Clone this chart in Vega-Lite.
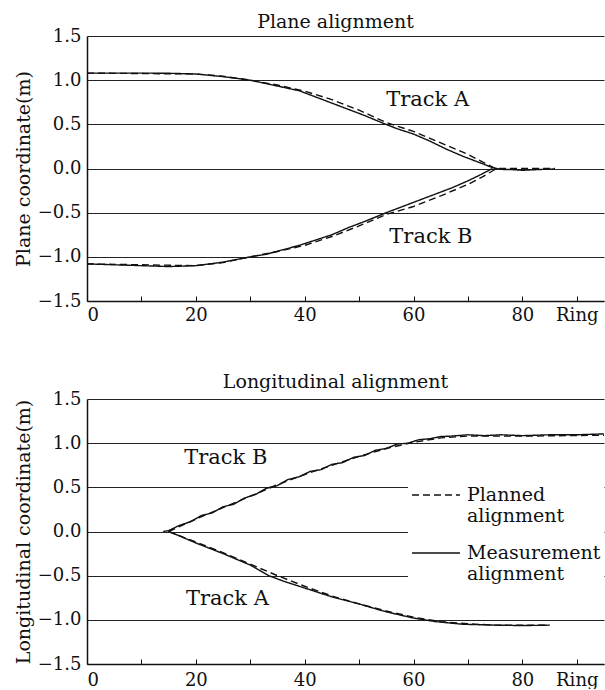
{
  "$schema": "https://vega.github.io/schema/vega-lite/v6.json",
  "padding": {"left": 14, "top": 13, "right": 0, "bottom": 0},
  "background": "white",
  "spacing": 49,
  "config": {
    "view": {"stroke": null},
    "font": "DejaVu Serif",
    "axis": {
      "labelFont": "DejaVu Serif",
      "labelFontSize": 18,
      "labelColor": "#111",
      "titleFont": "DejaVu Serif",
      "titleFontSize": 19,
      "titleFontWeight": "normal",
      "titleColor": "#111",
      "domainColor": "#111",
      "domainWidth": 1.5,
      "tickColor": "#111",
      "gridColor": "#222",
      "gridWidth": 1.2
    }
  },
  "datasets": {
    "lines": [
      {"panel": "plane", "track": "A", "type": "Measurement", "ring": 0, "value": 1.08},
      {"panel": "plane", "track": "A", "type": "Measurement", "ring": 5, "value": 1.08},
      {"panel": "plane", "track": "A", "type": "Measurement", "ring": 10, "value": 1.08},
      {"panel": "plane", "track": "A", "type": "Measurement", "ring": 15, "value": 1.078},
      {"panel": "plane", "track": "A", "type": "Measurement", "ring": 20, "value": 1.07},
      {"panel": "plane", "track": "A", "type": "Measurement", "ring": 25, "value": 1.04},
      {"panel": "plane", "track": "A", "type": "Measurement", "ring": 30, "value": 1.0},
      {"panel": "plane", "track": "A", "type": "Measurement", "ring": 33, "value": 0.96},
      {"panel": "plane", "track": "A", "type": "Measurement", "ring": 36, "value": 0.92},
      {"panel": "plane", "track": "A", "type": "Measurement", "ring": 39, "value": 0.88},
      {"panel": "plane", "track": "A", "type": "Measurement", "ring": 42, "value": 0.81},
      {"panel": "plane", "track": "A", "type": "Measurement", "ring": 45, "value": 0.74},
      {"panel": "plane", "track": "A", "type": "Measurement", "ring": 48, "value": 0.67},
      {"panel": "plane", "track": "A", "type": "Measurement", "ring": 51, "value": 0.6},
      {"panel": "plane", "track": "A", "type": "Measurement", "ring": 54.5, "value": 0.51},
      {"panel": "plane", "track": "A", "type": "Measurement", "ring": 57, "value": 0.45},
      {"panel": "plane", "track": "A", "type": "Measurement", "ring": 60, "value": 0.39},
      {"panel": "plane", "track": "A", "type": "Measurement", "ring": 63, "value": 0.31},
      {"panel": "plane", "track": "A", "type": "Measurement", "ring": 66, "value": 0.22},
      {"panel": "plane", "track": "A", "type": "Measurement", "ring": 69, "value": 0.14},
      {"panel": "plane", "track": "A", "type": "Measurement", "ring": 72, "value": 0.07},
      {"panel": "plane", "track": "A", "type": "Measurement", "ring": 74.5, "value": 0.01},
      {"panel": "plane", "track": "A", "type": "Measurement", "ring": 76, "value": -0.01},
      {"panel": "plane", "track": "A", "type": "Measurement", "ring": 78, "value": -0.012},
      {"panel": "plane", "track": "A", "type": "Measurement", "ring": 80, "value": -0.02},
      {"panel": "plane", "track": "A", "type": "Measurement", "ring": 83, "value": -0.012},
      {"panel": "plane", "track": "A", "type": "Measurement", "ring": 86, "value": -0.005},

      {"panel": "plane", "track": "A", "type": "Planned", "ring": 0, "value": 1.08},
      {"panel": "plane", "track": "A", "type": "Planned", "ring": 20, "value": 1.07},
      {"panel": "plane", "track": "A", "type": "Planned", "ring": 25, "value": 1.045},
      {"panel": "plane", "track": "A", "type": "Planned", "ring": 30, "value": 1.0},
      {"panel": "plane", "track": "A", "type": "Planned", "ring": 35, "value": 0.945},
      {"panel": "plane", "track": "A", "type": "Planned", "ring": 40, "value": 0.875},
      {"panel": "plane", "track": "A", "type": "Planned", "ring": 45, "value": 0.78},
      {"panel": "plane", "track": "A", "type": "Planned", "ring": 50, "value": 0.66},
      {"panel": "plane", "track": "A", "type": "Planned", "ring": 55, "value": 0.52},
      {"panel": "plane", "track": "A", "type": "Planned", "ring": 60, "value": 0.42},
      {"panel": "plane", "track": "A", "type": "Planned", "ring": 65, "value": 0.29},
      {"panel": "plane", "track": "A", "type": "Planned", "ring": 70, "value": 0.16},
      {"panel": "plane", "track": "A", "type": "Planned", "ring": 75, "value": 0.0},
      {"panel": "plane", "track": "A", "type": "Planned", "ring": 80, "value": 0.0},
      {"panel": "plane", "track": "A", "type": "Planned", "ring": 86, "value": 0.0},

      {"panel": "plane", "track": "B", "type": "Measurement", "ring": 0, "value": -1.08},
      {"panel": "plane", "track": "B", "type": "Measurement", "ring": 5, "value": -1.09},
      {"panel": "plane", "track": "B", "type": "Measurement", "ring": 10, "value": -1.1},
      {"panel": "plane", "track": "B", "type": "Measurement", "ring": 15, "value": -1.11},
      {"panel": "plane", "track": "B", "type": "Measurement", "ring": 20, "value": -1.1},
      {"panel": "plane", "track": "B", "type": "Measurement", "ring": 25, "value": -1.06},
      {"panel": "plane", "track": "B", "type": "Measurement", "ring": 30, "value": -1.0},
      {"panel": "plane", "track": "B", "type": "Measurement", "ring": 33, "value": -0.97},
      {"panel": "plane", "track": "B", "type": "Measurement", "ring": 36, "value": -0.92},
      {"panel": "plane", "track": "B", "type": "Measurement", "ring": 39, "value": -0.87},
      {"panel": "plane", "track": "B", "type": "Measurement", "ring": 42, "value": -0.81},
      {"panel": "plane", "track": "B", "type": "Measurement", "ring": 45, "value": -0.75},
      {"panel": "plane", "track": "B", "type": "Measurement", "ring": 48, "value": -0.67},
      {"panel": "plane", "track": "B", "type": "Measurement", "ring": 51, "value": -0.6},
      {"panel": "plane", "track": "B", "type": "Measurement", "ring": 55, "value": -0.5},
      {"panel": "plane", "track": "B", "type": "Measurement", "ring": 58, "value": -0.43},
      {"panel": "plane", "track": "B", "type": "Measurement", "ring": 61, "value": -0.36},
      {"panel": "plane", "track": "B", "type": "Measurement", "ring": 64, "value": -0.29},
      {"panel": "plane", "track": "B", "type": "Measurement", "ring": 67, "value": -0.22},
      {"panel": "plane", "track": "B", "type": "Measurement", "ring": 70, "value": -0.14},
      {"panel": "plane", "track": "B", "type": "Measurement", "ring": 72, "value": -0.08},
      {"panel": "plane", "track": "B", "type": "Measurement", "ring": 74.5, "value": 0.0},

      {"panel": "plane", "track": "B", "type": "Planned", "ring": 0, "value": -1.08},
      {"panel": "plane", "track": "B", "type": "Planned", "ring": 20, "value": -1.1},
      {"panel": "plane", "track": "B", "type": "Planned", "ring": 25, "value": -1.065},
      {"panel": "plane", "track": "B", "type": "Planned", "ring": 30, "value": -1.0},
      {"panel": "plane", "track": "B", "type": "Planned", "ring": 35, "value": -0.94},
      {"panel": "plane", "track": "B", "type": "Planned", "ring": 40, "value": -0.87},
      {"panel": "plane", "track": "B", "type": "Planned", "ring": 45, "value": -0.77},
      {"panel": "plane", "track": "B", "type": "Planned", "ring": 50, "value": -0.65},
      {"panel": "plane", "track": "B", "type": "Planned", "ring": 55, "value": -0.52},
      {"panel": "plane", "track": "B", "type": "Planned", "ring": 60, "value": -0.43},
      {"panel": "plane", "track": "B", "type": "Planned", "ring": 65, "value": -0.31},
      {"panel": "plane", "track": "B", "type": "Planned", "ring": 70, "value": -0.18},
      {"panel": "plane", "track": "B", "type": "Planned", "ring": 72.5, "value": -0.1},
      {"panel": "plane", "track": "B", "type": "Planned", "ring": 75, "value": -0.01},

      {"panel": "long", "track": "B", "type": "Measurement", "ring": 14, "value": 0.0},
      {"panel": "long", "track": "B", "type": "Measurement", "ring": 15, "value": 0.01},
      {"panel": "long", "track": "B", "type": "Measurement", "ring": 17, "value": 0.07},
      {"panel": "long", "track": "B", "type": "Measurement", "ring": 19, "value": 0.11},
      {"panel": "long", "track": "B", "type": "Measurement", "ring": 21, "value": 0.18},
      {"panel": "long", "track": "B", "type": "Measurement", "ring": 23, "value": 0.21},
      {"panel": "long", "track": "B", "type": "Measurement", "ring": 25, "value": 0.28},
      {"panel": "long", "track": "B", "type": "Measurement", "ring": 27, "value": 0.31},
      {"panel": "long", "track": "B", "type": "Measurement", "ring": 29, "value": 0.38},
      {"panel": "long", "track": "B", "type": "Measurement", "ring": 31, "value": 0.42},
      {"panel": "long", "track": "B", "type": "Measurement", "ring": 33, "value": 0.49},
      {"panel": "long", "track": "B", "type": "Measurement", "ring": 35, "value": 0.52},
      {"panel": "long", "track": "B", "type": "Measurement", "ring": 37, "value": 0.59},
      {"panel": "long", "track": "B", "type": "Measurement", "ring": 39, "value": 0.62},
      {"panel": "long", "track": "B", "type": "Measurement", "ring": 41, "value": 0.68},
      {"panel": "long", "track": "B", "type": "Measurement", "ring": 43, "value": 0.7},
      {"panel": "long", "track": "B", "type": "Measurement", "ring": 45, "value": 0.76},
      {"panel": "long", "track": "B", "type": "Measurement", "ring": 47, "value": 0.78},
      {"panel": "long", "track": "B", "type": "Measurement", "ring": 49, "value": 0.84},
      {"panel": "long", "track": "B", "type": "Measurement", "ring": 51, "value": 0.86},
      {"panel": "long", "track": "B", "type": "Measurement", "ring": 53, "value": 0.92},
      {"panel": "long", "track": "B", "type": "Measurement", "ring": 55, "value": 0.94},
      {"panel": "long", "track": "B", "type": "Measurement", "ring": 57, "value": 0.99},
      {"panel": "long", "track": "B", "type": "Measurement", "ring": 59, "value": 1.0},
      {"panel": "long", "track": "B", "type": "Measurement", "ring": 61, "value": 1.04},
      {"panel": "long", "track": "B", "type": "Measurement", "ring": 63, "value": 1.05},
      {"panel": "long", "track": "B", "type": "Measurement", "ring": 65, "value": 1.075},
      {"panel": "long", "track": "B", "type": "Measurement", "ring": 67, "value": 1.08},
      {"panel": "long", "track": "B", "type": "Measurement", "ring": 70, "value": 1.095},
      {"panel": "long", "track": "B", "type": "Measurement", "ring": 73, "value": 1.085},
      {"panel": "long", "track": "B", "type": "Measurement", "ring": 76, "value": 1.095},
      {"panel": "long", "track": "B", "type": "Measurement", "ring": 80, "value": 1.085},
      {"panel": "long", "track": "B", "type": "Measurement", "ring": 85, "value": 1.095},
      {"panel": "long", "track": "B", "type": "Measurement", "ring": 90, "value": 1.095},
      {"panel": "long", "track": "B", "type": "Measurement", "ring": 95, "value": 1.105},

      {"panel": "long", "track": "B", "type": "Planned", "ring": 15, "value": 0.0},
      {"panel": "long", "track": "B", "type": "Planned", "ring": 20, "value": 0.14},
      {"panel": "long", "track": "B", "type": "Planned", "ring": 25, "value": 0.27},
      {"panel": "long", "track": "B", "type": "Planned", "ring": 30, "value": 0.4},
      {"panel": "long", "track": "B", "type": "Planned", "ring": 35, "value": 0.53},
      {"panel": "long", "track": "B", "type": "Planned", "ring": 40, "value": 0.645},
      {"panel": "long", "track": "B", "type": "Planned", "ring": 45, "value": 0.75},
      {"panel": "long", "track": "B", "type": "Planned", "ring": 50, "value": 0.85},
      {"panel": "long", "track": "B", "type": "Planned", "ring": 55, "value": 0.94},
      {"panel": "long", "track": "B", "type": "Planned", "ring": 60, "value": 1.01},
      {"panel": "long", "track": "B", "type": "Planned", "ring": 65, "value": 1.06},
      {"panel": "long", "track": "B", "type": "Planned", "ring": 70, "value": 1.08},
      {"panel": "long", "track": "B", "type": "Planned", "ring": 80, "value": 1.08},
      {"panel": "long", "track": "B", "type": "Planned", "ring": 95, "value": 1.09},

      {"panel": "long", "track": "A", "type": "Measurement", "ring": 15, "value": 0.0},
      {"panel": "long", "track": "A", "type": "Measurement", "ring": 17, "value": -0.05},
      {"panel": "long", "track": "A", "type": "Measurement", "ring": 20, "value": -0.13},
      {"panel": "long", "track": "A", "type": "Measurement", "ring": 25, "value": -0.25},
      {"panel": "long", "track": "A", "type": "Measurement", "ring": 30, "value": -0.38},
      {"panel": "long", "track": "A", "type": "Measurement", "ring": 33.4, "value": -0.5},
      {"panel": "long", "track": "A", "type": "Measurement", "ring": 36, "value": -0.56},
      {"panel": "long", "track": "A", "type": "Measurement", "ring": 39.5, "value": -0.63},
      {"panel": "long", "track": "A", "type": "Measurement", "ring": 45, "value": -0.74},
      {"panel": "long", "track": "A", "type": "Measurement", "ring": 50, "value": -0.82},
      {"panel": "long", "track": "A", "type": "Measurement", "ring": 55, "value": -0.91},
      {"panel": "long", "track": "A", "type": "Measurement", "ring": 60, "value": -0.98},
      {"panel": "long", "track": "A", "type": "Measurement", "ring": 64, "value": -1.02},
      {"panel": "long", "track": "A", "type": "Measurement", "ring": 69, "value": -1.05},
      {"panel": "long", "track": "A", "type": "Measurement", "ring": 75, "value": -1.06},
      {"panel": "long", "track": "A", "type": "Measurement", "ring": 80, "value": -1.065},
      {"panel": "long", "track": "A", "type": "Measurement", "ring": 85, "value": -1.06},

      {"panel": "long", "track": "A", "type": "Planned", "ring": 15, "value": 0.0},
      {"panel": "long", "track": "A", "type": "Planned", "ring": 20, "value": -0.12},
      {"panel": "long", "track": "A", "type": "Planned", "ring": 25, "value": -0.24},
      {"panel": "long", "track": "A", "type": "Planned", "ring": 30, "value": -0.37},
      {"panel": "long", "track": "A", "type": "Planned", "ring": 35, "value": -0.5},
      {"panel": "long", "track": "A", "type": "Planned", "ring": 40, "value": -0.62},
      {"panel": "long", "track": "A", "type": "Planned", "ring": 45, "value": -0.73},
      {"panel": "long", "track": "A", "type": "Planned", "ring": 50, "value": -0.82},
      {"panel": "long", "track": "A", "type": "Planned", "ring": 55, "value": -0.9},
      {"panel": "long", "track": "A", "type": "Planned", "ring": 60, "value": -0.97},
      {"panel": "long", "track": "A", "type": "Planned", "ring": 65, "value": -1.02},
      {"panel": "long", "track": "A", "type": "Planned", "ring": 70, "value": -1.045},
      {"panel": "long", "track": "A", "type": "Planned", "ring": 75, "value": -1.06},
      {"panel": "long", "track": "A", "type": "Planned", "ring": 85, "value": -1.06}
    ],
    "labels": [
      {"panel": "plane", "text": "Track  A", "ring": 62.6, "value": 0.78},
      {"panel": "plane", "text": "Track  B", "ring": 63.2, "value": -0.78},
      {"panel": "long", "text": "Track  B", "ring": 25.5, "value": 0.83},
      {"panel": "long", "text": "Track  A", "ring": 25.8, "value": -0.76}
    ]
  },
  "resolve": {"legend": {"strokeDash": "independent"}},
  "vconcat": [
    {
      "width": 517,
      "height": 265,
      "title": {"text": "Plane alignment", "font": "DejaVu Serif", "fontSize": 19, "fontWeight": "normal", "color": "#111", "offset": -5, "dx": -10},
      "layer": [
        {
          "data": {"name": "lines"},
          "transform": [{"filter": "datum.panel == 'plane'"}],
          "mark": {"type": "line", "color": "#111", "strokeWidth": 1.4},
          "encoding": {
            "x": {"field": "ring", "type": "quantitative", "scale": {"domain": [0, 95], "nice": false},
              "axis": {"title": null, "values": [0, 10, 20, 30, 40, 50, 60, 70, 80, 90], "tickSize": -5, "labelPadding": 10, "grid": false,
                "labelExpr": "datum.value == 90 ? 'Ring' : (datum.value % 20 == 0 ? datum.label : '')"}},
            "y": {"field": "value", "type": "quantitative", "scale": {"domain": [-1.5, 1.5], "nice": false},
              "axis": {"title": "Plane coordinate(m)", "values": [-1.5, -1, -0.5, 0, 0.5, 1, 1.5], "format": ".1f", "ticks": false, "labelPadding": 6, "titlePadding": 4, "grid": true}},
            "detail": {"field": "track"},
            "strokeDash": {"field": "type", "type": "nominal", "scale": {"domain": ["Planned", "Measurement"], "range": [[7, 4], [1, 0]]}, "legend": null},
            "order": {"field": "ring", "type": "quantitative"}
          }
        },
        {
          "data": {"name": "labels"},
          "transform": [{"filter": "datum.panel == 'plane'"}],
          "mark": {"type": "text", "font": "DejaVu Serif", "fontSize": 21, "color": "#111"},
          "encoding": {
            "x": {"field": "ring", "type": "quantitative"},
            "y": {"field": "value", "type": "quantitative"},
            "text": {"field": "text"}
          }
        }
      ]
    },
    {
      "width": 517,
      "height": 265,
      "title": {"text": "Longitudinal alignment", "font": "DejaVu Serif", "fontSize": 19, "fontWeight": "normal", "color": "#111", "offset": -2, "dx": -10},
      "layer": [
        {
          "data": {"name": "lines"},
          "transform": [{"filter": "datum.panel == 'long'"}],
          "mark": {"type": "line", "color": "#111", "strokeWidth": 1.4},
          "encoding": {
            "x": {"field": "ring", "type": "quantitative", "scale": {"domain": [0, 95], "nice": false},
              "axis": {"title": null, "values": [0, 10, 20, 30, 40, 50, 60, 70, 80, 90], "tickSize": -5, "labelPadding": 12, "grid": false,
                "labelExpr": "datum.value == 90 ? 'Ring' : (datum.value % 20 == 0 ? datum.label : '')"}},
            "y": {"field": "value", "type": "quantitative", "scale": {"domain": [-1.5, 1.5], "nice": false},
              "axis": {"title": "Longitudinal coordinate(m)", "values": [-1.5, -1, -0.5, 0, 0.5, 1, 1.5], "format": ".1f", "ticks": false, "labelPadding": 6, "titlePadding": 4, "grid": true}},
            "detail": {"field": "track"},
            "strokeDash": {"field": "type", "type": "nominal", "scale": {"domain": ["Planned", "Measurement"], "range": [[7, 4], [1, 0]]},
              "legend": {"orient": "none", "legendX": 321, "legendY": 68, "title": null, "symbolType": "stroke", "symbolSize": 2304, "symbolStrokeWidth": 1.4, "symbolStrokeColor": "#111",
                "labelFont": "DejaVu Serif", "labelFontSize": 19, "labelColor": "#111", "labelOffset": 6, "rowPadding": 2, "padding": 3, "fillColor": "white",
                "labelExpr": "datum.label == 'Planned' ? ['Planned', 'alignment'] : ['Measurement', 'alignment']"}},
            "order": {"field": "ring", "type": "quantitative"}
          }
        },
        {
          "data": {"name": "labels"},
          "transform": [{"filter": "datum.panel == 'long'"}],
          "mark": {"type": "text", "font": "DejaVu Serif", "fontSize": 21, "color": "#111"},
          "encoding": {
            "x": {"field": "ring", "type": "quantitative"},
            "y": {"field": "value", "type": "quantitative"},
            "text": {"field": "text"}
          }
        }
      ]
    }
  ]
}
